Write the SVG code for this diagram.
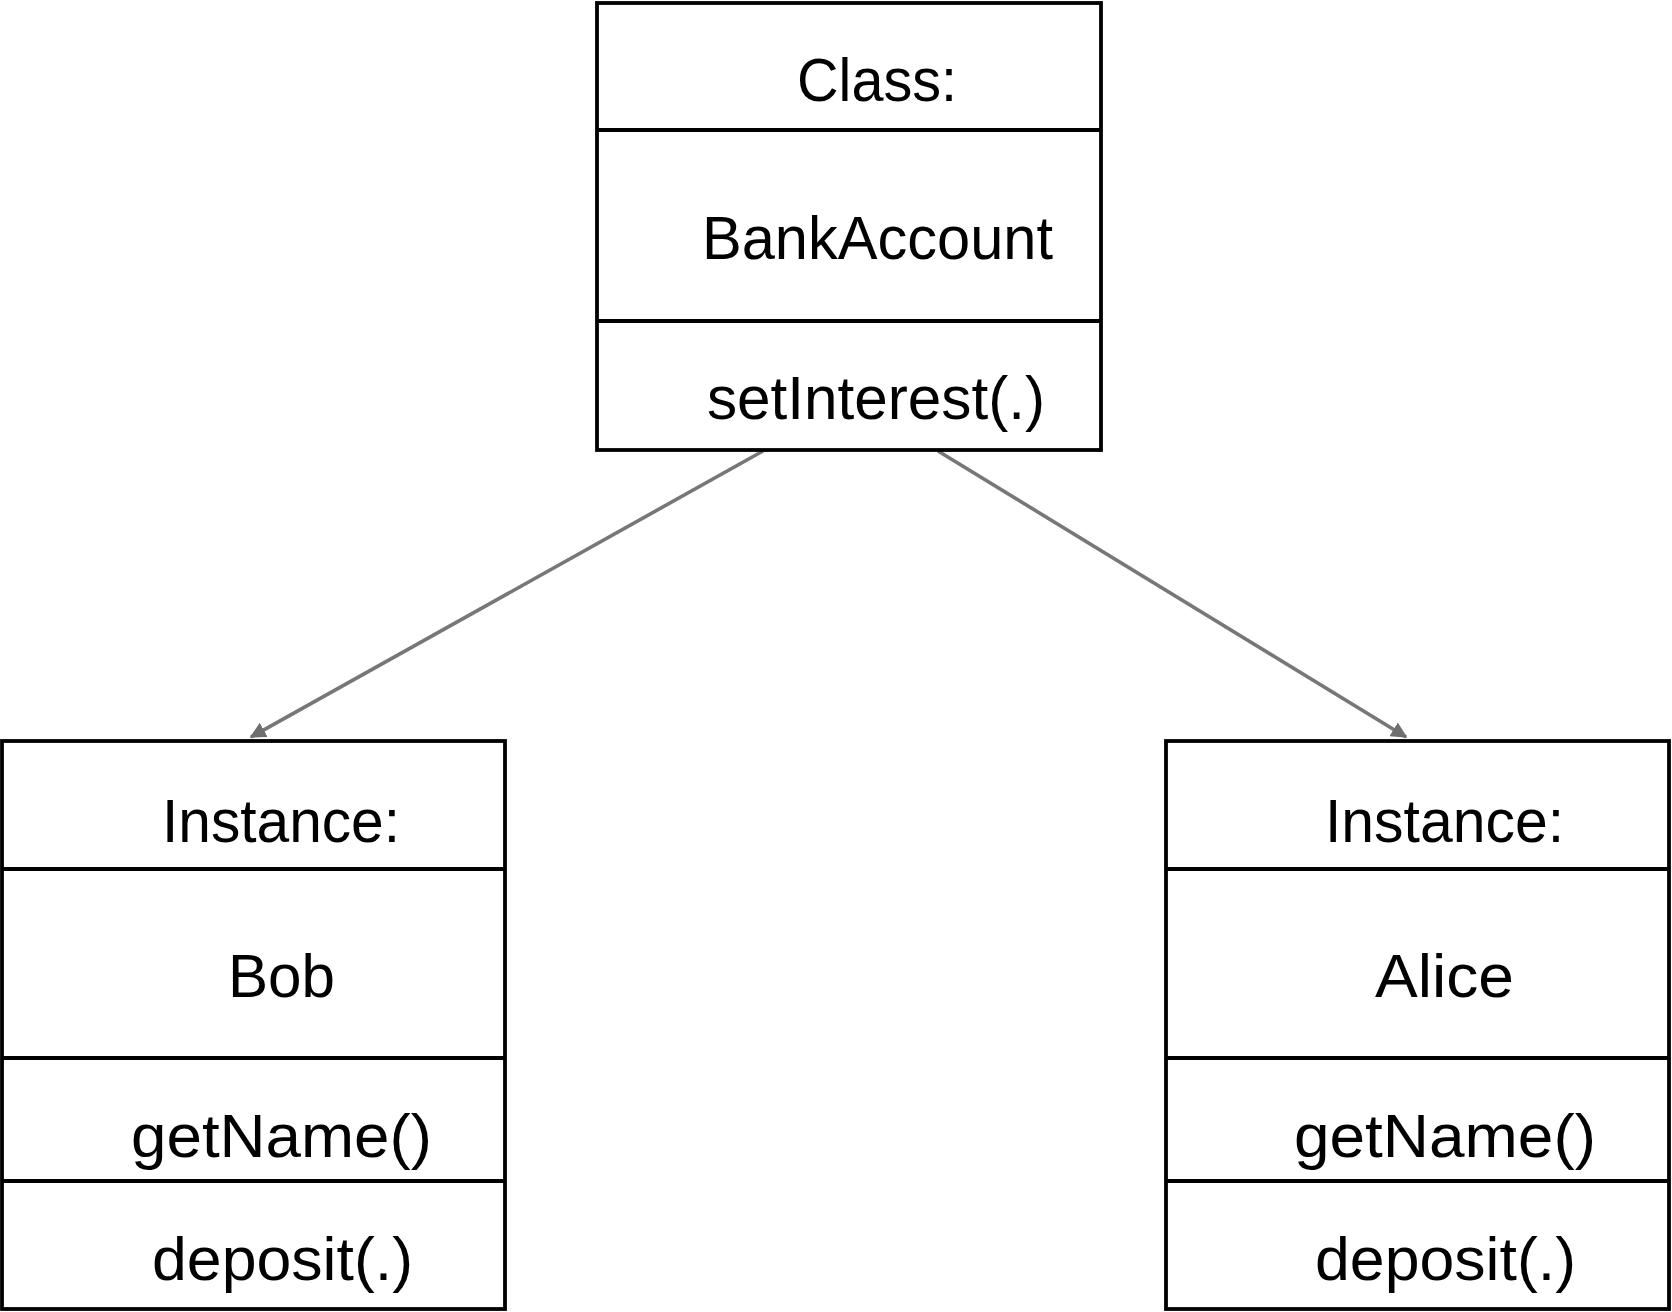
<svg xmlns="http://www.w3.org/2000/svg" width="1672" height="1312" viewBox="0 0 1672 1312">
<style>
.box{fill:#fff;stroke:#000;stroke-width:3.8}
.div{stroke:#000;stroke-width:3.8}
.t{font-family:"Liberation Sans",Arial,sans-serif;font-size:62px;fill:#000}
.conn{stroke:#777;stroke-width:3.6;fill:none}
</style>
<defs>
<marker id="arr" viewBox="0 0 10 10" refX="9" refY="5" markerWidth="4.5" markerHeight="4.5" orient="auto" markerUnits="strokeWidth">
<path d="M0,0 L10,5 L0,10 z" fill="#6e6e6e"/>
</marker>
</defs>
<rect width="1672" height="1312" fill="#fff"/>
<g id="connectors">
<line class="conn" x1="763" y1="451" x2="251" y2="737" marker-end="url(#arr)"/>
<line class="conn" x1="938" y1="451" x2="1406" y2="737" marker-end="url(#arr)"/>
</g>
<g id="class-bankaccount">
<rect class="box" x="597" y="3" width="504" height="447"/>
<line class="div" x1="597" y1="130" x2="1101" y2="130"/>
<line class="div" x1="597" y1="321" x2="1101" y2="321"/>
<text class="t" x="797" y="101" textLength="160" lengthAdjust="spacingAndGlyphs">Class:</text>
<text class="t" x="702" y="259" textLength="351" lengthAdjust="spacingAndGlyphs">BankAccount</text>
<text class="t" x="707" y="419" textLength="338" lengthAdjust="spacingAndGlyphs">setInterest(.)</text>
</g>
<g id="instance-bob">
<rect class="box" x="2" y="741" width="503" height="568"/>
<line class="div" x1="2" y1="869" x2="505" y2="869"/>
<line class="div" x1="2" y1="1058" x2="505" y2="1058"/>
<line class="div" x1="2" y1="1181" x2="505" y2="1181"/>
<text class="t" x="162" y="842" textLength="238" lengthAdjust="spacingAndGlyphs">Instance:</text>
<text class="t" x="228" y="997" textLength="107" lengthAdjust="spacingAndGlyphs">Bob</text>
<text class="t" x="131" y="1157" textLength="301" lengthAdjust="spacingAndGlyphs">getName()</text>
<text class="t" x="152" y="1280" textLength="261" lengthAdjust="spacingAndGlyphs">deposit(.)</text>
</g>
<g id="instance-alice">
<rect class="box" x="1166" y="741" width="503" height="568"/>
<line class="div" x1="1166" y1="869" x2="1669" y2="869"/>
<line class="div" x1="1166" y1="1058" x2="1669" y2="1058"/>
<line class="div" x1="1166" y1="1181" x2="1669" y2="1181"/>
<text class="t" x="1325" y="842" textLength="239" lengthAdjust="spacingAndGlyphs">Instance:</text>
<text class="t" x="1375" y="997" textLength="139" lengthAdjust="spacingAndGlyphs">Alice</text>
<text class="t" x="1294" y="1157" textLength="302" lengthAdjust="spacingAndGlyphs">getName()</text>
<text class="t" x="1315" y="1280" textLength="261" lengthAdjust="spacingAndGlyphs">deposit(.)</text>
</g>
</svg>
